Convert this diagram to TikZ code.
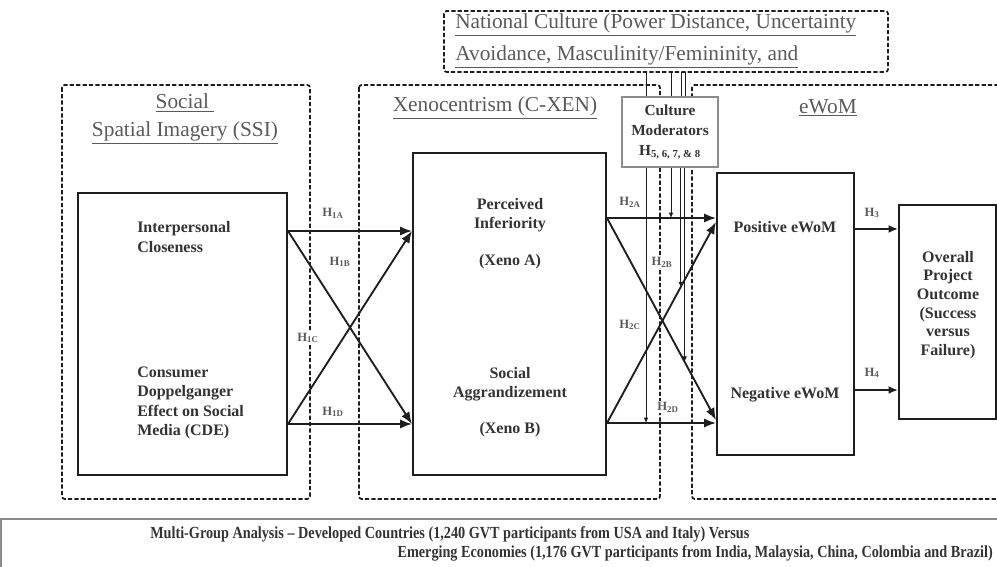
\documentclass[tikz,border=0pt]{standalone}
\usepackage{fontspec}
\setmainfont{Liberation Serif}
\newfontfamily\condfont[FakeStretch=0.84,Ligatures=TeX]{Liberation Serif}
\usetikzlibrary{arrows.meta,calc}
\definecolor{ink}{HTML}{1E1E1E}
\definecolor{ink2}{HTML}{333333}
\definecolor{ink3}{HTML}{5A5A5A}
\definecolor{rule}{HTML}{8C8C8C}
\tikzset{
  grp/.style={draw=ink, line width=1.3pt, dash pattern=on 3.2pt off 1.6pt, rounded corners=2pt},
  blk/.style={draw=ink, line width=1.5pt, fill=white, inner sep=0pt},
  lbl/.style={font=\fontsize{12}{14.5}\selectfont\bfseries, text=ink2, align=left, inner sep=0pt},
  clbl/.style={lbl, align=center},
  ttl/.style={font=\fontsize{16}{21}\selectfont, text=ink3, align=center, inner sep=0pt},
  hyp/.style={font=\fontsize{9.5}{10}\selectfont\bfseries, text=ink3, inner sep=1pt},
  hpath/.style={-{Latex[length=9pt,width=7pt]}, line width=1.4pt, draw=ink},
  opath/.style={-{Latex[length=7pt,width=6pt]}, line width=1.4pt, draw=ink},
  modl/.style={line width=0.6pt, draw=ink},
  moda/.style={-{Latex[length=4pt,width=3.5pt]}, line width=0.6pt, draw=ink},
  modbox/.style={draw=rule, line width=0.8pt, fill=white, align=center, inner sep=0pt,
                 font=\fontsize{11.5}{15}\selectfont\bfseries, text=ink2,
                 minimum width=72pt, minimum height=52.5pt},
  note/.style={inner sep=0pt, text=ink2, font=\condfont\fontsize{12.7}{14}\selectfont\bfseries},
}
\newcommand{\ul}[1]{\underline{#1}}

\begin{document}
\begin{tikzpicture}[x=0.75pt,y=-0.75pt]
\useasboundingbox (0,0) rectangle (997,567);

% dashed groups
\draw[grp] (62,85) rectangle (310,499);
\draw[grp] (359,85) rectangle (660,499);
\draw[grp] (1005,85) -- (692,85) -- (692,499) -- (1005,499);
\draw[grp] (444,11) rectangle (888,72);

% group titles
\node[ttl] (tssi) at (185,119) {\ul{Social\ }\\\ul{Spatial Imagery (SSI)}};
\node[ttl] (txen) at (495,108) {\ul{Xenocentrism (C-XEN)}};
\node[ttl] (tewm) at (828,108) {\ul{eWoM}};
\node[ttl, align=left, anchor=west, font=\fontsize{16}{24}\selectfont] (tnat) at (455,41)
  {\ul{National Culture (Power Distance, Uncertainty}\\\ul{Avoidance, Masculinity/Femininity, and}};

% construct boxes
\node[blk, minimum width=156.75pt, minimum height=211.5pt] (ssi) at (182.5,334) {};
\node[blk, minimum width=144.75pt, minimum height=241.5pt] (xeno) at (509.5,314) {};
\node[blk, minimum width=102.75pt, minimum height=211.5pt] (ewom) at (785.5,314) {};
\node[blk, minimum width=72.75pt, minimum height=160.5pt] (outc) at (947.5,312) {};

\node[lbl, anchor=west] (icl) at (137,237) {Interpersonal\\Closeness};
\node[lbl, anchor=west] (cde) at (137,403) {Consumer\\Doppelganger\\Effect on Social\\Media (CDE)};
\node[clbl] (xa) at (510,215) {Perceived\\Inferiority};
\node[clbl] (xan) at (510,262) {(Xeno A)};
\node[clbl] (xb) at (510,384) {Social\\Aggrandizement};
\node[clbl] (xbn) at (510,430) {(Xeno B)};
\node[clbl] (pos) at (785,227) {Positive eWoM};
\node[clbl] (neg) at (785,395) {Negative eWoM};
\node[clbl, font=\fontsize{12}{14}\selectfont\bfseries] (oc) at (948,305)
  {Overall\\Project\\Outcome\\(Success\\versus\\Failure)};

% path end points
\coordinate (s1) at (ssi.east |- 0,231);
\coordinate (s2) at (ssi.east |- 0,424);
\coordinate (x1) at (xeno.west |- 0,231);
\coordinate (x2) at (xeno.west |- 0,424);
\coordinate (y1) at (xeno.east |- 0,218);
\coordinate (y2) at (xeno.east |- 0,423);
\coordinate (e1) at (ewom.west |- 0,218);
\coordinate (e1b) at (ewom.west |- 0,222);
\coordinate (e2) at (ewom.west |- 0,420);
\coordinate (e2b) at (ewom.west |- 0,423);
\coordinate (f1) at (ewom.east |- 0,229);
\coordinate (f2) at (ewom.east |- 0,390);
\coordinate (o1) at (outc.west |- 0,229);
\coordinate (o2) at (outc.west |- 0,390);

% H1
\draw[hpath] (s1) -- (x1);
\draw[hpath] (s1) -- (x2);
\draw[hpath] (s2) -- (x1);
\draw[hpath] (s2) -- (x2);
\node[hyp] (h1a) at (333,213) {H\textsubscript{1A}};
\node[hyp] (h1b) at (340,262) {H\textsubscript{1B}};
\node[hyp, fill=white] (h1c) at (308,338) {H\textsubscript{1C}};
\node[hyp] (h1d) at (333,412) {H\textsubscript{1D}};

% H2
\draw[hpath] (y1) -- (e1);
\draw[hpath] (y1) -- (e2);
\draw[hpath] (y2) -- (e1b);
\draw[hpath] (y2) -- (e2b);
\node[hyp] (h2a) at (630,202) {H\textsubscript{2A}};
\node[hyp, fill=white] (h2b) at (662,262) {H\textsubscript{2B}};
\node[hyp] (h2c) at (630,325) {H\textsubscript{2C}};
\node[hyp, fill=white] (h2d) at (668,407) {H\textsubscript{2D}};

% H3, H4
\draw[opath] (f1) -- (o1);
\draw[opath] (f2) -- (o2);
\node[hyp] (h3) at (872,213) {H\textsubscript{3}};
\node[hyp] (h4) at (872,373) {H\textsubscript{4}};

% culture moderators
\node[modbox] (cmod) at (670,132) {Culture\\Moderators\\H\textsubscript{5, 6, 7, \& 8}};
\foreach \mx in {646,671,681,685}{
  \draw[modl] (\mx,72) -- (cmod.north -| \mx,0);
}
\coordinate (m1) at (646,423);
\coordinate (m2) at (671,218);
\coordinate (m3) at ($(y2)!0.676!(e1b)$);
\coordinate (m4) at ($(y1)!0.712!(e2)$);
\draw[moda] (cmod.south -| m1) -- (m1);
\draw[moda] (cmod.south -| m2) -- (m2);
\draw[moda] (cmod.south -| m3) -- (m3);
\draw[moda] (cmod.south -| m4) -- (m4);

% multi-group note
\draw[draw=rule, line width=1pt] (1,575) -- (1,519) -- (1005,519);
\node[note, anchor=west] (mg1) at (150,534)
  {Multi-Group Analysis – Developed Countries (1,240 GVT participants from USA and Italy) Versus};
\node[note, anchor=east] (mg2) at (993,553)
  {Emerging Economies (1,176 GVT participants from India, Malaysia, China, Colombia and Brazil)};
\end{tikzpicture}
\end{document}
